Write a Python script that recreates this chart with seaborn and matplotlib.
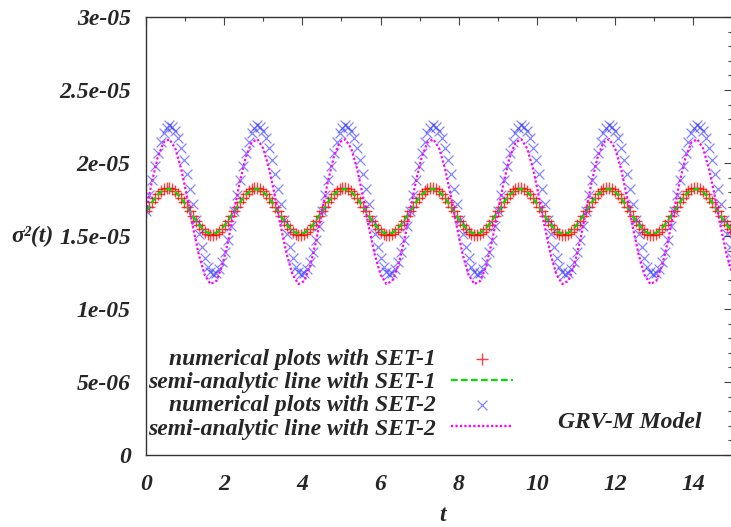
import numpy as np
import seaborn as sns
import matplotlib.pyplot as plt
from matplotlib.ticker import MultipleLocator

# sigma^2(t), in units of 1e-05
# numerical points, every 0.075 in t
set1_num = [
    1.668, 1.701, 1.733, 1.763, 1.788, 1.807, 1.821, 1.828, 1.828, 1.821, 1.807, 1.788, 1.763, 1.733, 1.701,
    1.668, 1.635, 1.603, 1.573, 1.548, 1.529, 1.515, 1.508, 1.508, 1.515, 1.529, 1.548, 1.573, 1.603, 1.635,
    1.668, 1.701, 1.733, 1.763, 1.788, 1.807, 1.821, 1.828, 1.828, 1.821, 1.807, 1.788, 1.763, 1.733, 1.701,
    1.668, 1.635, 1.603, 1.573, 1.548, 1.529, 1.515, 1.508, 1.508, 1.515, 1.529, 1.548, 1.573, 1.603, 1.635,
    1.668, 1.701, 1.733, 1.763, 1.788, 1.807, 1.821, 1.828, 1.828, 1.821, 1.807, 1.788, 1.763, 1.733, 1.701,
    1.668, 1.635, 1.603, 1.573, 1.548, 1.529, 1.515, 1.508, 1.508, 1.515, 1.529, 1.548, 1.573, 1.603, 1.635,
    1.668, 1.701, 1.733, 1.763, 1.788, 1.807, 1.821, 1.828, 1.828, 1.821, 1.807, 1.788, 1.763, 1.733, 1.701,
    1.668, 1.635, 1.603, 1.573, 1.548, 1.529, 1.515, 1.508, 1.508, 1.515, 1.529, 1.548, 1.573, 1.603, 1.635,
    1.668, 1.701, 1.733, 1.763, 1.788, 1.807, 1.821, 1.828, 1.828, 1.821, 1.807, 1.788, 1.763, 1.733, 1.701,
    1.668, 1.635, 1.603, 1.573, 1.548, 1.529, 1.515, 1.508, 1.508, 1.515, 1.529, 1.548, 1.573, 1.603, 1.635,
    1.668, 1.701, 1.733, 1.763, 1.788, 1.807, 1.821, 1.828, 1.828, 1.821, 1.807, 1.788, 1.763, 1.733, 1.701,
    1.668, 1.635, 1.603, 1.573, 1.548, 1.529, 1.515, 1.508, 1.508, 1.515, 1.529, 1.548, 1.573, 1.603, 1.635,
    1.668, 1.701, 1.733, 1.763, 1.788, 1.807, 1.821, 1.828, 1.828, 1.821, 1.807, 1.788, 1.763, 1.733, 1.701,
    1.668, 1.635, 1.603, 1.573, 1.548, 1.529,
]
set2_num = [
    1.672, 1.778, 1.883, 1.983, 2.071, 2.146, 2.203, 2.241, 2.257, 2.250, 2.222, 2.172, 2.105, 2.021, 1.926,
    1.822, 1.716, 1.611, 1.512, 1.423, 1.348, 1.291, 1.253, 1.238, 1.244, 1.272, 1.322, 1.390, 1.473, 1.568,
    1.672, 1.778, 1.883, 1.983, 2.071, 2.146, 2.203, 2.241, 2.257, 2.250, 2.222, 2.172, 2.105, 2.021, 1.926,
    1.822, 1.716, 1.611, 1.512, 1.423, 1.348, 1.291, 1.253, 1.238, 1.244, 1.272, 1.322, 1.390, 1.473, 1.568,
    1.672, 1.778, 1.883, 1.983, 2.071, 2.146, 2.203, 2.241, 2.257, 2.250, 2.222, 2.172, 2.105, 2.021, 1.926,
    1.822, 1.716, 1.611, 1.512, 1.423, 1.348, 1.291, 1.253, 1.238, 1.244, 1.272, 1.322, 1.390, 1.473, 1.568,
    1.672, 1.778, 1.883, 1.983, 2.071, 2.146, 2.203, 2.241, 2.257, 2.250, 2.222, 2.172, 2.105, 2.021, 1.926,
    1.822, 1.716, 1.611, 1.512, 1.423, 1.348, 1.291, 1.253, 1.238, 1.244, 1.272, 1.322, 1.390, 1.473, 1.568,
    1.672, 1.778, 1.883, 1.983, 2.071, 2.146, 2.203, 2.241, 2.257, 2.250, 2.222, 2.172, 2.105, 2.021, 1.926,
    1.822, 1.716, 1.611, 1.512, 1.423, 1.348, 1.291, 1.253, 1.238, 1.244, 1.272, 1.322, 1.390, 1.473, 1.568,
    1.672, 1.778, 1.883, 1.983, 2.071, 2.146, 2.203, 2.241, 2.257, 2.250, 2.222, 2.172, 2.105, 2.021, 1.926,
    1.822, 1.716, 1.611, 1.512, 1.423, 1.348, 1.291, 1.253, 1.238, 1.244, 1.272, 1.322, 1.390, 1.473, 1.568,
    1.672, 1.778, 1.883, 1.983, 2.071, 2.146, 2.203, 2.241, 2.257, 2.250, 2.222, 2.172, 2.105, 2.021, 1.926,
    1.822, 1.716, 1.611, 1.512, 1.423, 1.348,
]
# semi-analytic lines, every 0.15 in t
set1_line = [
    1.668, 1.731, 1.783, 1.815, 1.822, 1.802, 1.759, 1.700, 1.636, 1.577, 1.534, 1.514, 1.521, 1.553, 1.605,
    1.668, 1.731, 1.783, 1.815, 1.822, 1.802, 1.759, 1.700, 1.636, 1.577, 1.534, 1.514, 1.521, 1.553, 1.605,
    1.668, 1.731, 1.783, 1.815, 1.822, 1.802, 1.759, 1.700, 1.636, 1.577, 1.534, 1.514, 1.521, 1.553, 1.605,
    1.668, 1.731, 1.783, 1.815, 1.822, 1.802, 1.759, 1.700, 1.636, 1.577, 1.534, 1.514, 1.521, 1.553, 1.605,
    1.668, 1.731, 1.783, 1.815, 1.822, 1.802, 1.759, 1.700, 1.636, 1.577, 1.534, 1.514, 1.521, 1.553, 1.605,
    1.668, 1.731, 1.783, 1.815, 1.822, 1.802, 1.759, 1.700, 1.636, 1.577, 1.534, 1.514, 1.521, 1.553, 1.605,
    1.668, 1.731, 1.783, 1.815, 1.822, 1.802, 1.759, 1.700, 1.636, 1.577, 1.534,
]
set2_line = [
    1.667, 1.870, 2.038, 2.142, 2.163, 2.099, 1.960, 1.771, 1.563, 1.374, 1.235, 1.171, 1.192, 1.296, 1.464,
    1.667, 1.870, 2.038, 2.142, 2.163, 2.099, 1.960, 1.771, 1.563, 1.374, 1.235, 1.171, 1.192, 1.296, 1.464,
    1.667, 1.870, 2.038, 2.142, 2.163, 2.099, 1.960, 1.771, 1.563, 1.374, 1.235, 1.171, 1.192, 1.296, 1.464,
    1.667, 1.870, 2.038, 2.142, 2.163, 2.099, 1.960, 1.771, 1.563, 1.374, 1.235, 1.171, 1.192, 1.296, 1.464,
    1.667, 1.870, 2.038, 2.142, 2.163, 2.099, 1.960, 1.771, 1.563, 1.374, 1.235, 1.171, 1.192, 1.296, 1.464,
    1.667, 1.870, 2.038, 2.142, 2.163, 2.099, 1.960, 1.771, 1.563, 1.374, 1.235, 1.171, 1.192, 1.296, 1.464,
    1.667, 1.870, 2.038, 2.142, 2.163, 2.099, 1.960, 1.771, 1.563, 1.374, 1.235,
]
t_num = np.linspace(0, 15, len(set1_num))
t_line = np.linspace(0, 15, len(set1_line))

labels = ["numerical plots with SET-1", "semi-analytic line with SET-1",
          "numerical plots with SET-2", "semi-analytic line with SET-2"]
x_ticks = [0, 2, 4, 6, 8, 10, 12, 14]
y_ticks = [0, 5e-06, 1e-05, 1.5e-05, 2e-05, 2.5e-05, 3e-05]
y_ticklabels = ["0", "5e-06", "1e-05", "1.5e-05", "2e-05", "2.5e-05", "3e-05"]

sns.set_style("white")
plt.rcParams['font.family'] = ['Liberation Serif', 'DejaVu Serif']
font = {'family': 'Liberation Serif', 'weight': 'bold', 'style': 'italic', 'size': 17}

fig = plt.figure(figsize=(7.31, 5.27), dpi=100)
ax = fig.add_axes([0.1997, 0.1366, 1.002 - 0.1997, 0.9677 - 0.1366])

sns.scatterplot(x=t_num, y=np.array(set1_num) * 1e-5, marker='+', color='#ff0000',
                s=65, linewidth=1.0, alpha=0.75, label=labels[0], ax=ax)
sns.lineplot(x=t_line, y=np.array(set1_line) * 1e-5, color='#00dd00', lw=1.6,
             linestyle=(0, (3, 1.5)), label=labels[1], ax=ax)
sns.scatterplot(x=t_num, y=np.array(set2_num) * 1e-5, marker='x', color='#3333ff',
                s=50, linewidth=0.9, alpha=0.6, label=labels[2], ax=ax)
sns.lineplot(x=t_line, y=np.array(set2_line) * 1e-5, color='#ff00ff', lw=1.6,
             linestyle=(0, (1, 1)), label=labels[3], ax=ax)

ax.set_xlim(0, 15)
ax.set_ylim(0, 3e-05)
ax.set_xticks(x_ticks)
ax.set_xticklabels([str(v) for v in x_ticks], fontdict=font)
ax.set_yticks(y_ticks)
ax.set_yticklabels(y_ticklabels, fontdict=font)
ax.xaxis.set_minor_locator(MultipleLocator(1))
ax.yaxis.set_minor_locator(MultipleLocator(1e-06))
ax.tick_params(which='both', direction='in', top=True, right=True, color='#444444', width=0.8)
ax.tick_params(which='major', length=6)
ax.tick_params(which='minor', length=3)
ax.tick_params(axis='x', which='major', pad=14)
ax.tick_params(axis='y', which='major', pad=11)
for sp in ax.spines.values():
    sp.set_color('#333333')
    sp.set_linewidth(1.0)

ax.set_xlabel('t', fontdict=font)
ax.xaxis.set_label_coords(0.505, -0.151)
ax.xaxis.label.set_va('baseline')
ax.set_ylabel('σ²(t)', fontdict=font, rotation=0)
ax.yaxis.set_label_coords(-0.193, 0.50)
ax.yaxis.label.set_va('center')
ax.yaxis.label.set_ha('center')

handles, labs = ax.get_legend_handles_labels()
ax.legend(handles, labs, loc='center right', bbox_to_anchor=(0.626, 0.139),
          frameon=False, markerfirst=False, handlelength=2.65, handletextpad=0.62,
          labelspacing=0.07, borderpad=0, borderaxespad=0, scatterpoints=1,
          prop={'family': 'Liberation Serif', 'weight': 'bold', 'style': 'italic', 'size': 17})

ax.text(0.825, 0.075, 'GRV-M Model', transform=ax.transAxes, ha='center', va='center', fontdict=font)

fig.savefig('out.png', dpi=100)
